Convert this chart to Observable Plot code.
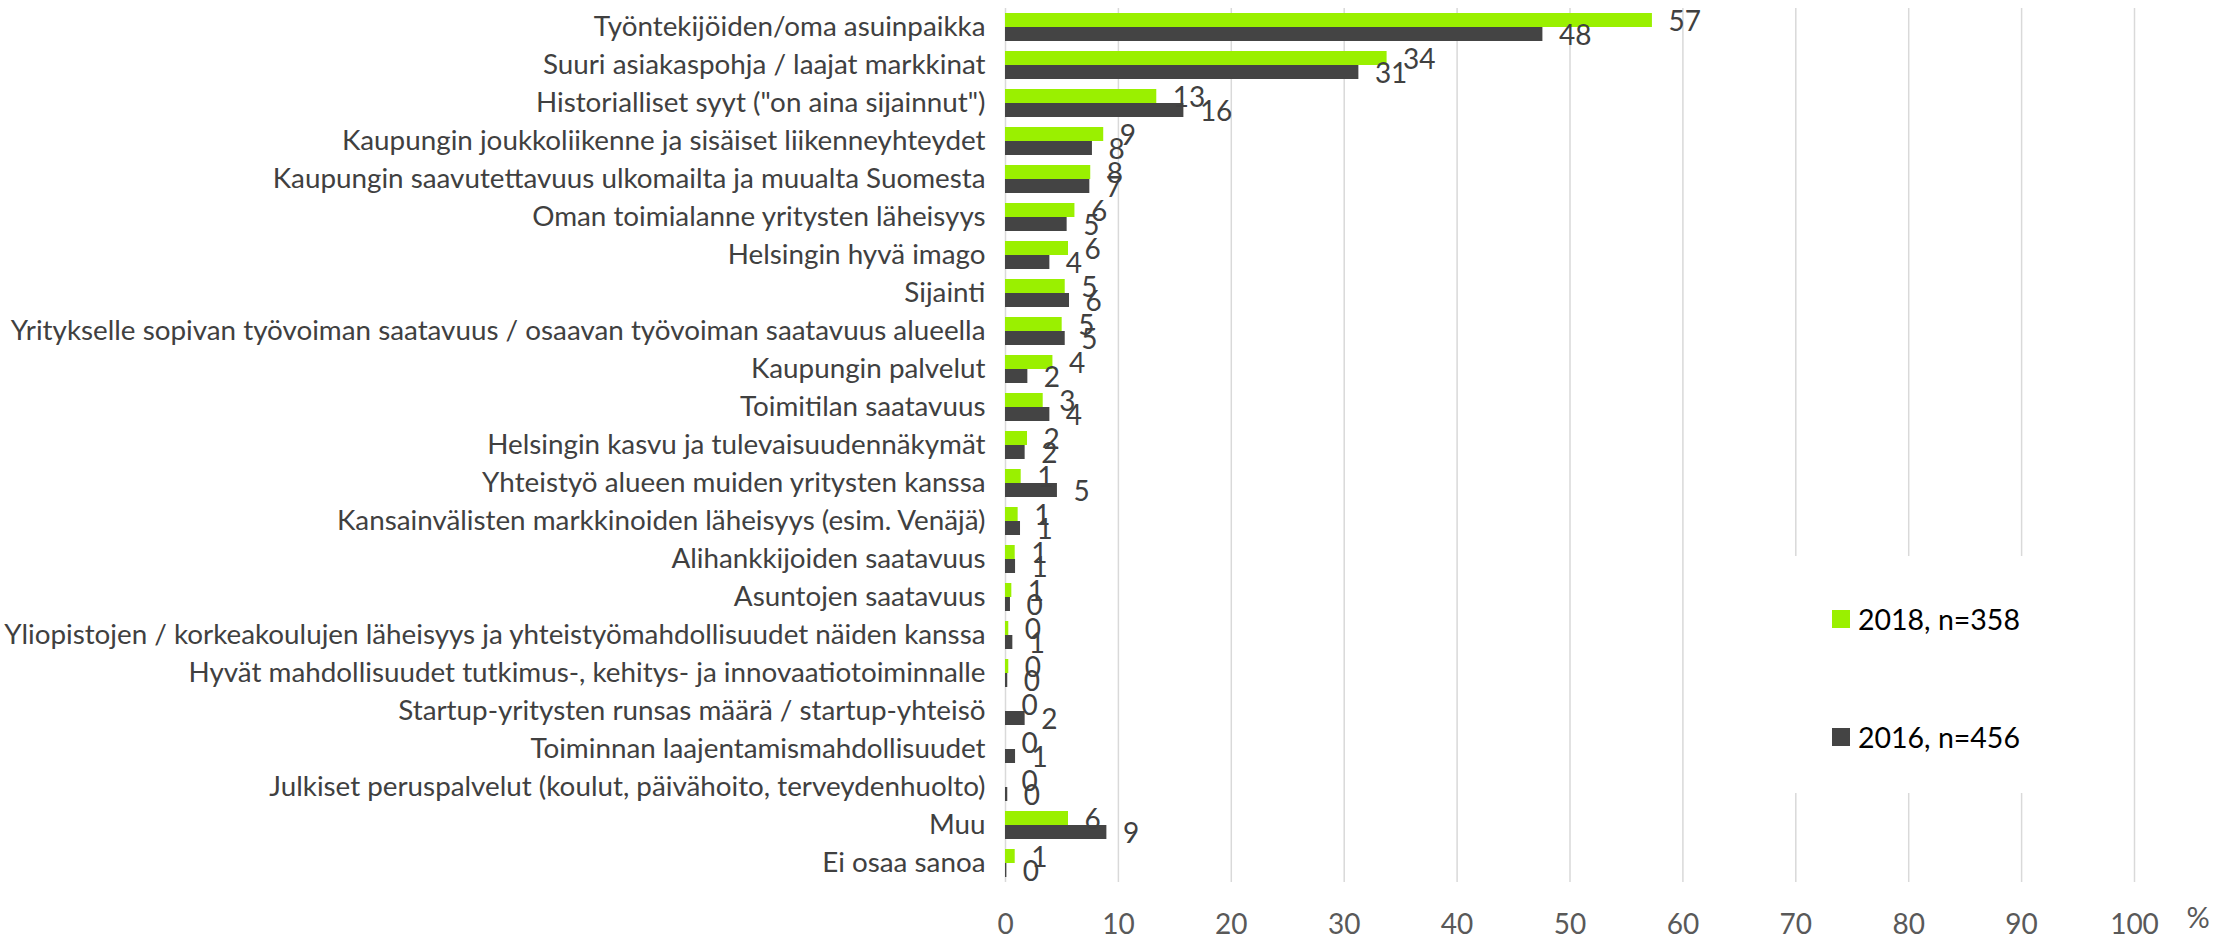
<!DOCTYPE html>
<html>
<head>
<meta charset="utf-8">
<script src="https://cdn.jsdelivr.net/npm/d3@7"></script>
<script src="https://cdn.jsdelivr.net/npm/@observablehq/plot@0.6"></script>
<style>
  html, body { margin: 0; padding: 0; background: #fff; }
  #wrap { position: relative; width: 2238px; height: 939px; font-family: Lato, "Liberation Sans", sans-serif; }
  #legend { position: absolute; left: 1790px; top: 556px; width: 240px; height: 237px; background: #fff; }
  .lg-item { position: absolute; left: 42px; display: flex; align-items: center; font-size: 28.5px; color: #000; white-space: nowrap; }
  .lg-sw { width: 18px; height: 18px; margin-right: 8px; }
</style>
</head>
<body>
<div id="wrap"></div>
<script>
const categories = [
  "Työntekijöiden/oma asuinpaikka",
  "Suuri asiakaspohja / laajat markkinat",
  "Historialliset syyt (\"on aina sijainnut\")",
  "Kaupungin joukkoliikenne ja sisäiset liikenneyhteydet",
  "Kaupungin saavutettavuus ulkomailta ja muualta Suomesta",
  "Oman toimialanne yritysten läheisyys",
  "Helsingin hyvä imago",
  "Sijainti",
  "Yritykselle sopivan työvoiman saatavuus / osaavan työvoiman saatavuus alueella",
  "Kaupungin palvelut",
  "Toimitilan saatavuus",
  "Helsingin kasvu ja tulevaisuudennäkymät",
  "Yhteistyö alueen muiden yritysten kanssa",
  "Kansainvälisten markkinoiden läheisyys (esim. Venäjä)",
  "Alihankkijoiden saatavuus",
  "Asuntojen saatavuus",
  "Yliopistojen / korkeakoulujen läheisyys ja yhteistyömahdollisuudet näiden kanssa",
  "Hyvät mahdollisuudet tutkimus-, kehitys- ja innovaatiotoiminnalle",
  "Startup-yritysten runsas määrä / startup-yhteisö",
  "Toiminnan laajentamismahdollisuudet",
  "Julkiset peruspalvelut (koulut, päivähoito, terveydenhuolto)",
  "Muu",
  "Ei osaa sanoa"
];
const values2018 = [57.3, 33.8, 13.4, 8.7, 7.55, 6.15, 5.58, 5.29, 5.02, 4.2, 3.34, 1.95, 1.39, 1.12, 0.86, 0.56, 0.29, 0.29, 0, 0, 0, 5.58, 0.86];
const values2016 = [47.6, 31.3, 15.8, 7.7, 7.47, 5.46, 3.93, 5.67, 5.29, 1.98, 3.93, 1.74, 4.6, 1.33, 0.89, 0.44, 0.65, 0.2, 1.74, 0.89, 0.2, 8.98, 0.12];
const seriesKeys = ["2018", "2016"];
const seriesLabels = ["2018, n=358", "2016, n=456"];
const seriesColors = ["#9AF000", "#444444"];
const xTicks = [0, 10, 20, 30, 40, 50, 60, 70, 80, 90, 100];
const unitLabel = "%";

const rows = categories.flatMap((c, i) => [
  {cat: c, series: seriesKeys[0], value: values2018[i]},
  {cat: c, series: seriesKeys[1], value: values2016[i]}
]);

const W = 2238, H = 939, mL = 1005, mR = 104, mT = 7, mB = 56;

const chart = Plot.plot({
  width: W, height: H,
  marginLeft: mL, marginRight: mR, marginTop: mT, marginBottom: mB,
  style: {fontFamily: "Lato, 'Liberation Sans', sans-serif", background: "#fff"},
  x: {domain: [0, 100]},
  fy: {domain: categories, padding: 0, axis: null},
  y: {domain: seriesKeys, paddingInner: 0, paddingOuter: 0.27, axis: null},
  color: {domain: seriesKeys, range: seriesColors},
  marks: [
    Plot.gridX(xTicks, {stroke: "#d9d9d9", strokeOpacity: 1, strokeWidth: 1.5}),
    Plot.barX(rows, {x: "value", y: "series", fy: "cat", fill: "series"}),
    Plot.text(rows, {x: "value", y: "series", fy: "cat", text: d => String(Math.round(d.value)),
      textAnchor: "start", dx: 16, dy: 2, fontSize: 28, fill: "#404040"}),
    Plot.axisX(xTicks, {tickSize: 0, tickPadding: 32, fontSize: 28, color: "#595959", label: null}),
    Plot.axisFy({anchor: "left", tickSize: 0, tickPadding: 20, fontSize: 27.8, color: "#404040", label: null})
  ]
});

const wrap = document.getElementById("wrap");
wrap.appendChild(chart);

// unit label next to the last tick
const xs = chart.scale("x");
d3.select(chart).append("text")
  .attr("x", xs.apply(100) + 64)
  .attr("y", H - mB + 38)
  .attr("text-anchor", "middle")
  .attr("dominant-baseline", "middle")
  .attr("font-size", 29)
  .attr("fill", "#595959")
  .text(unitLabel);

// legend
const legend = document.createElement("div");
legend.id = "legend";
seriesLabels.forEach((lab, i) => {
  const item = document.createElement("div");
  item.className = "lg-item";
  item.style.top = (i === 0 ? 46 : 164) + "px";
  const sw = document.createElement("div");
  sw.className = "lg-sw";
  sw.style.background = seriesColors[i];
  const t = document.createElement("span");
  t.textContent = lab;
  item.appendChild(sw);
  item.appendChild(t);
  legend.appendChild(item);
});
wrap.appendChild(legend);
</script>
</body>
</html>
